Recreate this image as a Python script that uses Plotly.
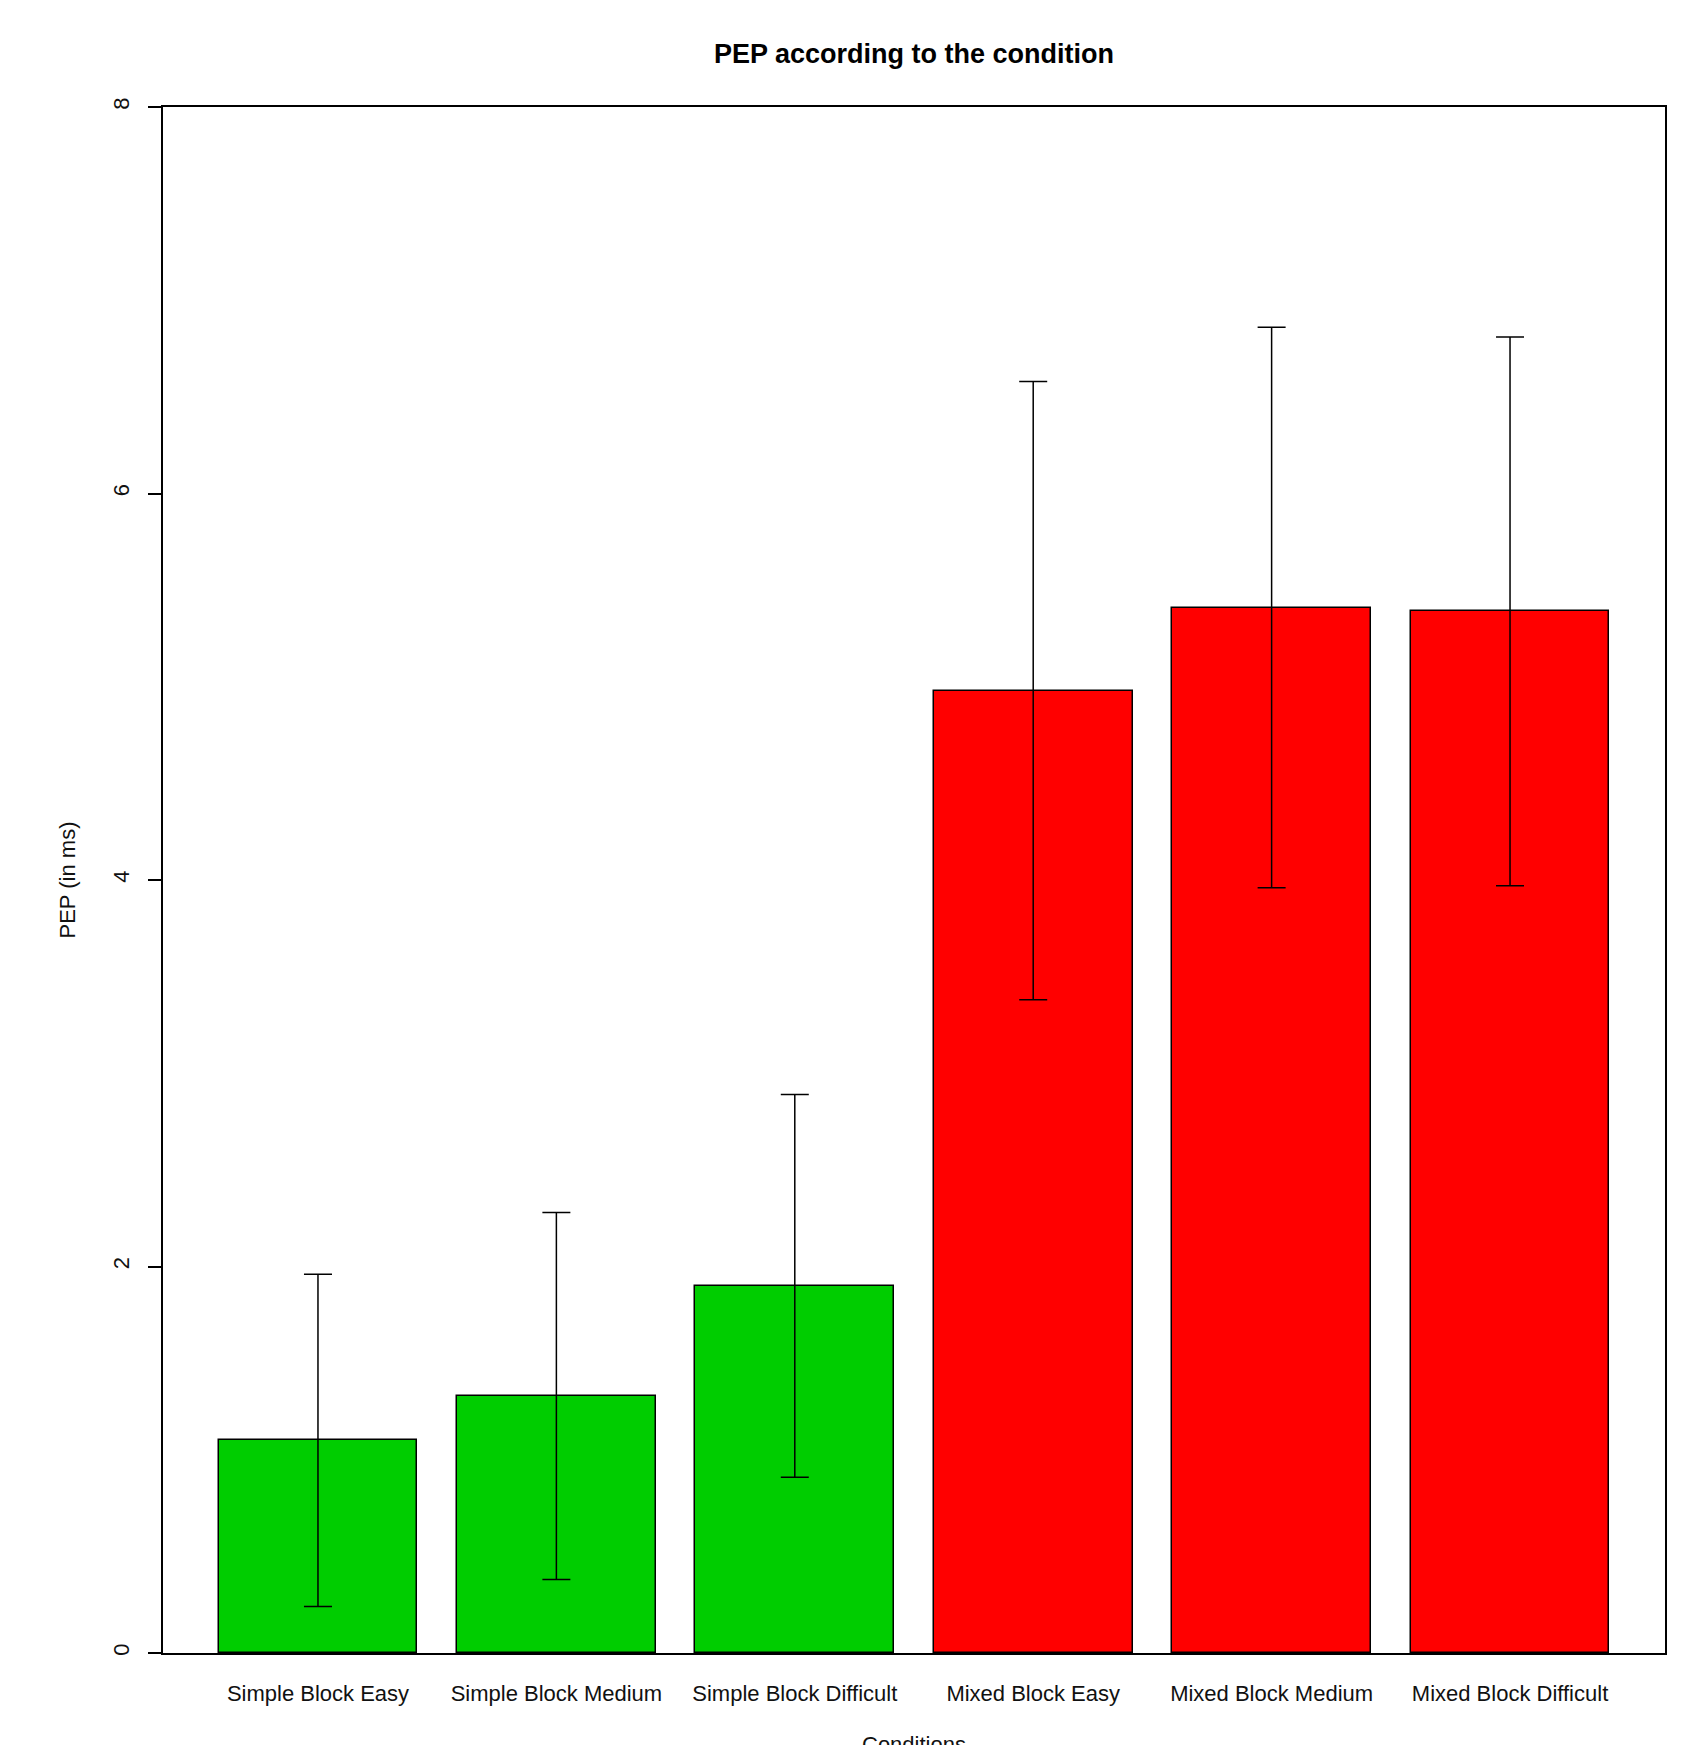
import plotly.graph_objects as go

categories = ["Simple Block Easy", "Simple Block Medium", "Simple Block Difficult",
              "Mixed Block Easy", "Mixed Block Medium", "Mixed Block Difficult"]
means = [1.10, 1.33, 1.90, 4.98, 5.41, 5.39]
errors = [0.86, 0.95, 0.99, 1.60, 1.45, 1.42]
colors = ["#00CD00", "#00CD00", "#00CD00", "#FF0000", "#FF0000", "#FF0000"]
y_ticks = [0, 2, 4, 6, 8]

# R barplot positions: width 1, space 0.2
xpos = [0.7 + 1.2 * i for i in range(len(categories))]

FONT = "Liberation Sans, Arial, sans-serif"
L, R, T, B = 163, 41, 107, 92
W, H = 1706, 1745

fig = go.Figure()
fig.add_trace(go.Bar(
    x=xpos, y=means, width=1.0,
    marker=dict(color=colors, line=dict(color="black", width=1.5)),
    error_y=dict(type="data", array=errors, visible=True,
                 color="black", thickness=1.5, width=14),
    showlegend=False,
))

fig.update_layout(
    width=W, height=H,
    paper_bgcolor="white", plot_bgcolor="white",
    margin=dict(l=L, r=R, t=T, b=B),
    font=dict(family=FONT, size=22, color="black"),
    title=dict(text="<b>PEP according to the condition</b>",
               x=(L + (W - R)) / 2 / W, xanchor="center",
               y=1 - 54 / H, yanchor="middle",
               font=dict(family=FONT, size=27, color="black")),
    bargap=0,
)

fig.update_xaxes(
    range=[-0.08, 7.48],
    tickvals=xpos, ticktext=categories,
    ticks="outside", ticklen=20, tickcolor="rgba(0,0,0,0)",
    showline=True, linecolor="black", linewidth=1.5, mirror=True,
    showgrid=False, zeroline=False,
    tickfont=dict(family=FONT, size=22, color="#111"),
)
fig.update_yaxes(
    range=[0, 8],
    tickvals=y_ticks, ticktext=[str(v) for v in y_ticks],
    tickangle=-90,
    ticks="outside", ticklen=13, tickwidth=1.5, tickcolor="black",
    ticklabelstandoff=10,
    showline=True, linecolor="black", linewidth=1.5, mirror=True,
    showgrid=False, zeroline=False,
    tickfont=dict(family=FONT, size=22, color="#111"),
    title=dict(text="PEP (in ms)", standoff=28,
               font=dict(family=FONT, size=22, color="#111")),
)

plot_h = H - T - B
fig.add_annotation(
    text="Conditions", xref="paper", yref="paper",
    x=0.5, y=((H - B) - 1745) / plot_h, xanchor="center", yanchor="middle",
    showarrow=False, font=dict(family=FONT, size=22, color="#111"),
)

fig.write_html(
    "out.html",
    config={"displayModeBar": False},
    post_script="document.body.style.margin='0';document.body.style.overflow='hidden';",
)
